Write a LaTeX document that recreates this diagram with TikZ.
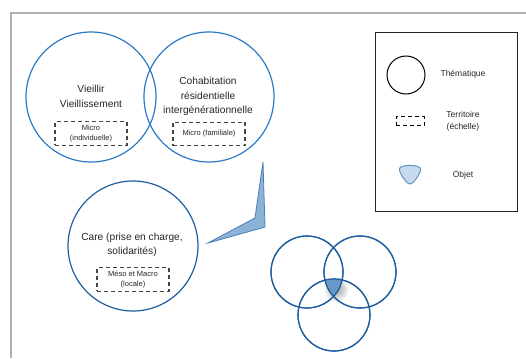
\documentclass[tikz,border=0pt]{standalone}
\usepackage{fontspec}
\setmainfont{Liberation Sans}
\usepackage{tikz}
\usetikzlibrary{shapes,positioning}
\usepackage{xcolor}
\definecolor{thblue}{RGB}{43,123,196}
\definecolor{thdarkblue}{RGB}{30,94,158}
\definecolor{calloutfill}{RGB}{141,178,216}
\definecolor{calloutdraw}{RGB}{74,127,181}
\definecolor{objfill}{RGB}{198,217,238}
\definecolor{objdraw}{RGB}{100,150,198}
\definecolor{interfill}{RGB}{104,152,200}
\definecolor{framegray}{RGB}{176,176,176}
\definecolor{boxgray}{RGB}{70,70,70}
\tikzstyle{theme} = [circle, minimum size=130pt, inner sep=0pt, draw=thblue, line width=1.2pt]
\tikzstyle{smalltheme} = [circle, minimum size=72pt, inner sep=0pt, draw=thdarkblue, line width=1.2pt]
\tikzstyle{maintext} = [align=center, font=\fontsize{10.2}{14.5}\selectfont, text=black!85]
\tikzstyle{scalebox} = [rectangle, minimum width=72pt, minimum height=23pt, draw=boxgray, line width=1.1pt, dash pattern=on 4pt off 3pt, align=center, font=\fontsize{7.5}{9.5}\selectfont, text=black!85]
\tikzstyle{legendtext} = [align=center, font=\fontsize{8.5}{12}\selectfont, text=black!85]

\begin{document}
\begin{tikzpicture}[x=1pt, y=-1pt]
\useasboundingbox (0,0) rectangle (526,358);
% frame
\draw[framegray, line width=2pt] (11,358) -- (11,13) -- (526,13);

% Thematiques
\node[theme] (vieillir) at (91,97) {};
\node[theme] (cohab) at (209,97) {};
\node[theme, draw=thdarkblue] (care) at (133,246) {};

\node[maintext] (vieillirtxt) at (91,96.5) {Vieillir\\Vieillissement};
\node[maintext] (cohabtxt) at (208,96.5) {Cohabitation\\résidentielle\\intergénérationnelle};
\node[maintext] (caretxt) at (132,245) {Care (prise en charge,\\solidarités)};

\node[scalebox] (micro1) at (91,133.5) {Micro\\(individuelle)};
\node[scalebox] (micro2) at (209,134) {Micro (familiale)};
\node[scalebox] (meso) at (133,279.5) {Méso et Macro\\(locale)};

% Callout
\draw[calloutdraw, fill=calloutfill, line width=0.8pt, line join=miter]
  (263,162) -- (265,227) -- (208,243) -- (255,218) -- cycle;

% Objet : intersection
\shade[inner color=black!40, outer color=white] (336,289) circle (13);
\node[smalltheme] (circa) at (307,272) {};
\node[smalltheme] (circb) at (360,272) {};
\node[smalltheme] (circc) at (334,315) {};
\begin{scope}
\clip (307,272) circle (36);
\clip (360,272) circle (36);
\fill[interfill] (334,315) circle (36);
\end{scope}
\draw[thdarkblue, line width=1.2pt] (307,272) circle (36);
\draw[thdarkblue, line width=1.2pt] (360,272) circle (36);
\draw[thdarkblue, line width=1.2pt] (334,315) circle (36);

% Legende
\node[rectangle, draw=black!85, line width=1pt, minimum width=142pt, minimum height=178pt] (legend) at (446,122) {};
\node[circle, draw=black, line width=1pt, minimum size=38pt, inner sep=0pt] (legcircle) at (406,75) {};
\node[legendtext] (legthem) at (463,74) {Thématique};
\node[rectangle, draw=black, line width=1pt, dash pattern=on 4pt off 3pt, minimum width=28pt, minimum height=9pt, inner sep=0pt] (legbox) at (410,121.5) {};
\node[legendtext] (legterr) at (463,121) {Territoire\\(échelle)};
\draw[objdraw, fill=objfill, line width=1pt]
  (402,166.5) .. controls (406,165) and (414,165) .. (418,166.5)
  .. controls (422,168) and (421,171) .. (418,176)
  .. controls (415,181) and (412,184) .. (410,184)
  .. controls (408,184) and (405,181) .. (402,176)
  .. controls (399,171) and (398,168) .. cycle;
\coordinate (legobj) at (410,175);
\node[legendtext] (legobjtxt) at (463,175) {Objet};
\end{tikzpicture}
\end{document}
